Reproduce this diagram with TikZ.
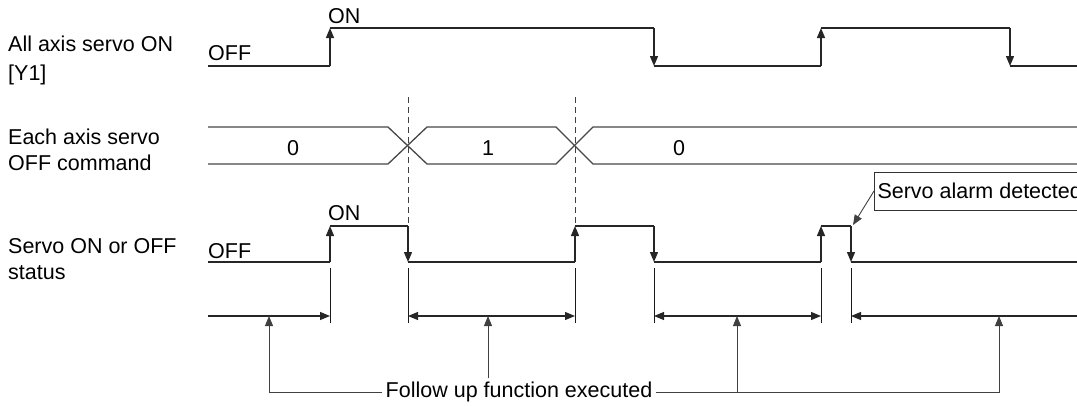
\documentclass[tikz,border=0pt]{standalone}
\usepackage{fontspec}
\setmainfont{Liberation Sans}
\usetikzlibrary{arrows.meta}

\begin{document}
\begin{tikzpicture}[
  x=1pt, y=-1pt,
  font=\fontsize{21.5}{26}\selectfont,
  sig/.style={line width=1.4pt, draw=black!85},
  edge/.style={sig, -{Triangle[length=10pt,width=8pt]}},
  bus/.style={line width=1.3pt, draw=black!72},
  guide/.style={line width=0.9pt, draw=black!75, dash pattern=on 6pt off 4pt},
  tick/.style={line width=0.9pt, draw=black!90},
  span/.style={line width=1.1pt, draw=black!85},
  pointer/.style={line width=0.9pt, draw=black!75, -{Triangle[length=10pt,width=8pt]}},
  lbl/.style={anchor=west, inner sep=0pt, align=left},
  level/.style={anchor=west, inner sep=0pt},
  alarmbox/.style={draw=black!80, line width=1pt, anchor=west, minimum height=38pt,
                   inner xsep=3pt}
]
\clip (0,0) rectangle (1077,405);

% signal names
\node[lbl] (servoin) at (8,60) {All axis servo ON\\[3pt]{[Y1]}};
\node[lbl] (cmdin) at (8,150) {Each axis servo\\OFF command};
\node[lbl] (status) at (8,259) {Servo ON or OFF\\status};

% all axis servo ON [Y1]
\node[level] (off1) at (208,53) {OFF};
\node[level] (on1) at (328,16) {ON};
\draw[sig] (208,66) -- (330,66);
\draw[edge] (330,66) -- (330,28);
\draw[sig] (330,28) -- (654,28);
\draw[edge] (654,28) -- (654,66);
\draw[sig] (654,66) -- (821,66);
\draw[edge] (821,66) -- (821,28);
\draw[sig] (821,28) -- (1010,28);
\draw[edge] (1010,28) -- (1010,66);
\draw[sig] (1010,66) -- (1077,66);

% each axis servo OFF command
\draw[bus] (208,127) -- (388,127) -- (427,164) -- (556,164) -- (593,127) -- (1077,127);
\draw[bus] (208,164) -- (388,164) -- (427,127) -- (556,127) -- (593,164) -- (1077,164);
\node (cmd0) at (293,148) {0};
\node (cmd1) at (488,148) {1};
\node (cmd2) at (679,148) {0};

\draw[guide] (408,97) -- (408,226);
\draw[guide] (575,97) -- (575,226);

% servo ON or OFF status
\node[level] (off3) at (208,251) {OFF};
\node[level] (on3) at (328,213) {ON};
\draw[sig] (208,262) -- (330,262);
\draw[edge] (330,262) -- (330,226);
\draw[sig] (330,226) -- (408,226);
\draw[edge] (408,226) -- (408,262);
\draw[sig] (408,262) -- (575,262);
\draw[edge] (575,262) -- (575,226);
\draw[sig] (575,226) -- (654,226);
\draw[edge] (654,226) -- (654,262);
\draw[sig] (654,262) -- (821,262);
\draw[edge] (821,262) -- (821,226);
\draw[sig] (821,226) -- (851,226);
\draw[edge] (851,226) -- (851,262);
\draw[sig] (851,262) -- (1077,262);

\node[alarmbox] (alarm) at (874,191) {Servo alarm detected};
\draw[pointer] (alarm.west) -- (853,225);

% follow up intervals
\foreach \t in {330,408,575,654,821,851}
  \draw[tick] (\t,268) -- (\t,323);
\draw[span, -{Triangle[length=10pt,width=8pt]}] (208,316) -- (330,316);
\draw[span, {Triangle[length=10pt,width=8pt]}-{Triangle[length=10pt,width=8pt]}] (408,316) -- (575,316);
\draw[span, {Triangle[length=10pt,width=8pt]}-{Triangle[length=10pt,width=8pt]}] (654,316) -- (821,316);
\draw[span, {Triangle[length=10pt,width=8pt]}-] (851,316) -- (1077,316);

\node (follow) at (519,392) {Follow up function executed};
\coordinate (f1) at (269,316);
\coordinate (f2) at (488,316);
\coordinate (f3) at (737,316);
\coordinate (f4) at (999,316);
\draw[pointer] (follow.west) -| (f1);
\draw[pointer] (f2 |- follow.north) -- (f2);
\draw[pointer] (follow.east) -| (f4);
\draw[pointer] (f3 |- follow.east) -- (f3);

\end{tikzpicture}
\end{document}
